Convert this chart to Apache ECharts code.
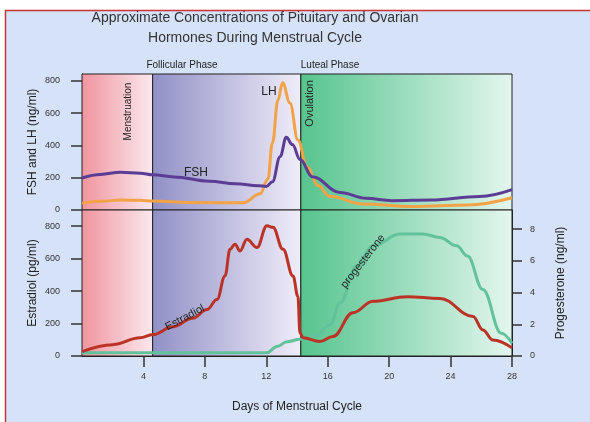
<!DOCTYPE html>
<html>
<head>
<meta charset="utf-8">
<script src="https://cdn.jsdelivr.net/npm/echarts@6/dist/echarts.min.js"></script>
<style>
  html, body { margin: 0; padding: 0; background: #fff; }
  #chart { width: 590px; height: 422px; }
</style>
</head>
<body>
<div id="chart"></div>
<script>
// [day, ng/ml]
var fsh = [
  [0, 198], [1.2, 220], [2.5, 234], [3.8, 228], [4.6, 218], [6, 205], [8.3, 178],
  [10, 162], [11.5, 150], [12, 146], [12.4, 175], [12.9, 330], [13.3, 450],
  [13.7, 405], [14.2, 312], [15, 206], [16.8, 108], [18.5, 72], [20.2, 58],
  [22.7, 62], [25.9, 84], [28, 126]
];
var lh = [
  [0, 41], [1.2, 54], [2.5, 62], [3.8, 60], [4.6, 56], [7, 46], [10.5, 45],
  [11.6, 100], [12.1, 190], [12.4, 415], [12.76, 681], [13.06, 788], [13.54, 662],
  [14.06, 433], [14.65, 266], [15.4, 150], [16.1, 85], [18.3, 37], [21.5, 22],
  [25.1, 31], [28, 76]
];
// [day, pg/ml]
var estradiol = [
  [0, 27], [2, 70], [3.78, 112], [4.62, 132], [5.92, 180], [7.2, 232], [8.14, 286],
  [8.79, 348], [9.31, 493], [9.64, 658], [9.96, 689], [10.29, 648], [10.74, 720],
  [11.39, 669], [12.04, 803], [12.43, 793], [13.09, 658], [13.74, 493], [14.06, 368],
  [14.19, 143], [14.39, 112], [15.49, 89], [16.34, 120], [17.64, 267], [18.95, 337],
  [21.16, 366], [23.31, 355], [25.46, 244], [26.1, 161], [26.76, 99], [28, 50]
];
// [day, ng/ml] on the right axis
var progesterone = [
  [0, 0.2], [6, 0.2], [12.04, 0.2], [12.69, 0.6], [13.35, 0.9], [14.19, 1.05],
  [15.3, 1.33], [16.15, 1.97], [16.8, 3.35], [17.9, 5.67], [18.95, 6.94],
  [20.7, 7.68], [22.2, 7.68], [23.3, 7.47], [24.4, 6.94], [25.1, 6.3],
  [26.1, 4.19], [27.3, 1.44], [28, 0.8]
];

var dayTicks = [4, 8, 12, 16, 20, 24, 28];
var topTicks = [0, 200, 400, 600, 800];
var phases = [
  { from: 0, to: 4.6, c1: "#f0949f", c2: "#fbe9ee" },
  { from: 4.6, to: 14.25, c1: "#9190c6", c2: "#f0edf9" },
  { from: 14.25, to: 28, c1: "#56c48e", c2: "#e4f6ee" }
];

var font = "Liberation Sans, Arial, sans-serif";
var chart = echarts.init(document.getElementById("chart"));

function phaseAreas() {
  return {
    silent: true,
    itemStyle: { borderColor: "#222", borderWidth: 1 },
    data: phases.map(function (p) {
      return [
        {
          xAxis: p.from,
          itemStyle: {
            color: {
              type: "linear", x: 0, y: 0, x2: 1, y2: 0,
              colorStops: [{ offset: 0, color: p.c1 }, { offset: 1, color: p.c2 }]
            }
          }
        },
        { xAxis: p.to }
      ];
    })
  };
}

function tag(text, coord, rotate, size) {
  return {
    coord: coord,
    symbolSize: 0,
    label: {
      show: true, position: "inside", formatter: text, rotate: rotate || 0,
      fontSize: size || 11, color: "#222", fontFamily: font
    }
  };
}

var axisText = { fontSize: 9, color: "#333", fontFamily: font };
var nameText = { fontSize: 12, color: "#222", fontFamily: font };

chart.setOption({
  animation: false,
  backgroundColor: "#d6e2f7",
  title: {
    text: "Approximate Concentrations of Pituitary and Ovarian\nHormones During Menstrual Cycle",
    left: 255, top: 8, padding: 0, textAlign: "center",
    textStyle: { fontSize: 14, fontWeight: "normal", color: "#333", fontFamily: font, lineHeight: 20 }
  },
  graphic: [
    { type: "rect", shape: { x: 0, y: 0, width: 590, height: 10 }, style: { fill: "#fff" } },
    { type: "rect", shape: { x: 0, y: 0, width: 5, height: 422 }, style: { fill: "#fff" } },
    { type: "line", shape: { x1: 5, y1: 10.5, x2: 590, y2: 10.5 }, style: { stroke: "#cc3333", lineWidth: 1.5 } },
    { type: "line", shape: { x1: 5.5, y1: 10, x2: 5.5, y2: 422 }, style: { stroke: "#cc3333", lineWidth: 1.5 } },
    { type: "text", x: 182, y: 65, style: { text: "Follicular Phase", fill: "#222", font: "10px " + font, align: "center", verticalAlign: "middle" } },
    { type: "text", x: 330, y: 65, style: { text: "Luteal Phase", fill: "#222", font: "10px " + font, align: "center", verticalAlign: "middle" } }
  ],
  grid: [
    { left: 82, top: 74, width: 430, height: 136 },
    { left: 82, top: 210, width: 430, height: 146 }
  ],
  xAxis: [
    {
      gridIndex: 0, type: "value", min: 0, max: 28,
      axisLine: { show: false }, axisTick: { show: false }, axisLabel: { show: false }, splitLine: { show: false }
    },
    {
      gridIndex: 1, type: "value", min: 0, max: 28,
      name: "Days of Menstrual Cycle", nameLocation: "middle", nameGap: 45, nameMoveOverlap: false, nameTextStyle: nameText,
      axisLine: { show: true, lineStyle: { color: "#222", width: 1 } },
      axisTick: { show: true, customValues: dayTicks, length: 11, lineStyle: { color: "#333", width: 1.5 } },
      axisLabel: { customValues: dayTicks, margin: 16, textStyle: axisText },
      splitLine: { show: false }
    }
  ],
  yAxis: [
    {
      gridIndex: 0, type: "value", min: 0, max: 842,
      name: "FSH and LH (ng/ml)", nameLocation: "middle", nameGap: 43, nameMoveOverlap: false, nameRotate: 90, nameTextStyle: nameText,
      axisLine: { show: true, lineStyle: { color: "#222", width: 1 } },
      axisTick: { show: true, customValues: topTicks, length: 11, lineStyle: { color: "#333", width: 1.5 } },
      axisLabel: { customValues: topTicks, margin: 22, textStyle: axisText },
      splitLine: { show: false }
    },
    {
      gridIndex: 1, type: "value", min: 0, max: 900, interval: 200,
      name: "Estradiol (pg/ml)", nameLocation: "middle", nameGap: 43, nameMoveOverlap: false, nameRotate: 90, nameTextStyle: nameText,
      axisLine: { show: true, lineStyle: { color: "#222", width: 1 } },
      axisTick: { show: true, length: 11, lineStyle: { color: "#333", width: 1.5 } },
      axisLabel: { margin: 22, showMaxLabel: false, textStyle: axisText },
      splitLine: { show: false }
    },
    {
      gridIndex: 1, type: "value", position: "right", min: 0, max: 9.2, interval: 2,
      name: "Progesterone (ng/ml)", nameLocation: "middle", nameGap: 43, nameMoveOverlap: false, nameRotate: 90, nameTextStyle: nameText,
      axisLine: { show: true, lineStyle: { color: "#222", width: 1 } },
      axisTick: { show: true, length: 10, lineStyle: { color: "#333", width: 1.5 } },
      axisLabel: { margin: 18, showMaxLabel: false, textStyle: axisText },
      splitLine: { show: false }
    }
  ],
  series: [
    {
      name: "LH", type: "line", xAxisIndex: 0, yAxisIndex: 0, data: lh,
      smooth: 0.4, smoothMonotone: "x", symbol: "none",
      lineStyle: { color: "#f2a347", width: 3 },
      markArea: phaseAreas(),
      markPoint: {
        data: [
          tag("LH", [12.17, 730], 0, 12),
          tag("Menstruation", [3.0, 610], 90, 10),
          tag("Ovulation", [14.85, 660], 90, 11)
        ]
      }
    },
    {
      name: "FSH", type: "line", xAxisIndex: 0, yAxisIndex: 0, data: fsh,
      smooth: 0.4, smoothMonotone: "x", symbol: "none",
      lineStyle: { color: "#5b3d95", width: 3 },
      markPoint: { data: [tag("FSH", [7.42, 229], 0, 12)] }
    },
    {
      name: "Progesterone", type: "line", xAxisIndex: 1, yAxisIndex: 2, data: progesterone,
      smooth: 0.4, smoothMonotone: "x", symbol: "none",
      lineStyle: { color: "#62c29b", width: 3 },
      markArea: phaseAreas(),
      markPoint: { data: [tag("progesterone", [18.3, 5.97], 52, 11)] }
    },
    {
      name: "Estradiol", type: "line", xAxisIndex: 1, yAxisIndex: 1, data: estradiol,
      smooth: 0.4, smoothMonotone: "x", symbol: "none",
      lineStyle: { color: "#bb3226", width: 3 },
      markPoint: { data: [tag("Estradiol", [6.7, 236], 28, 11)] }
    }
  ]
});
</script>
</body>
</html>
